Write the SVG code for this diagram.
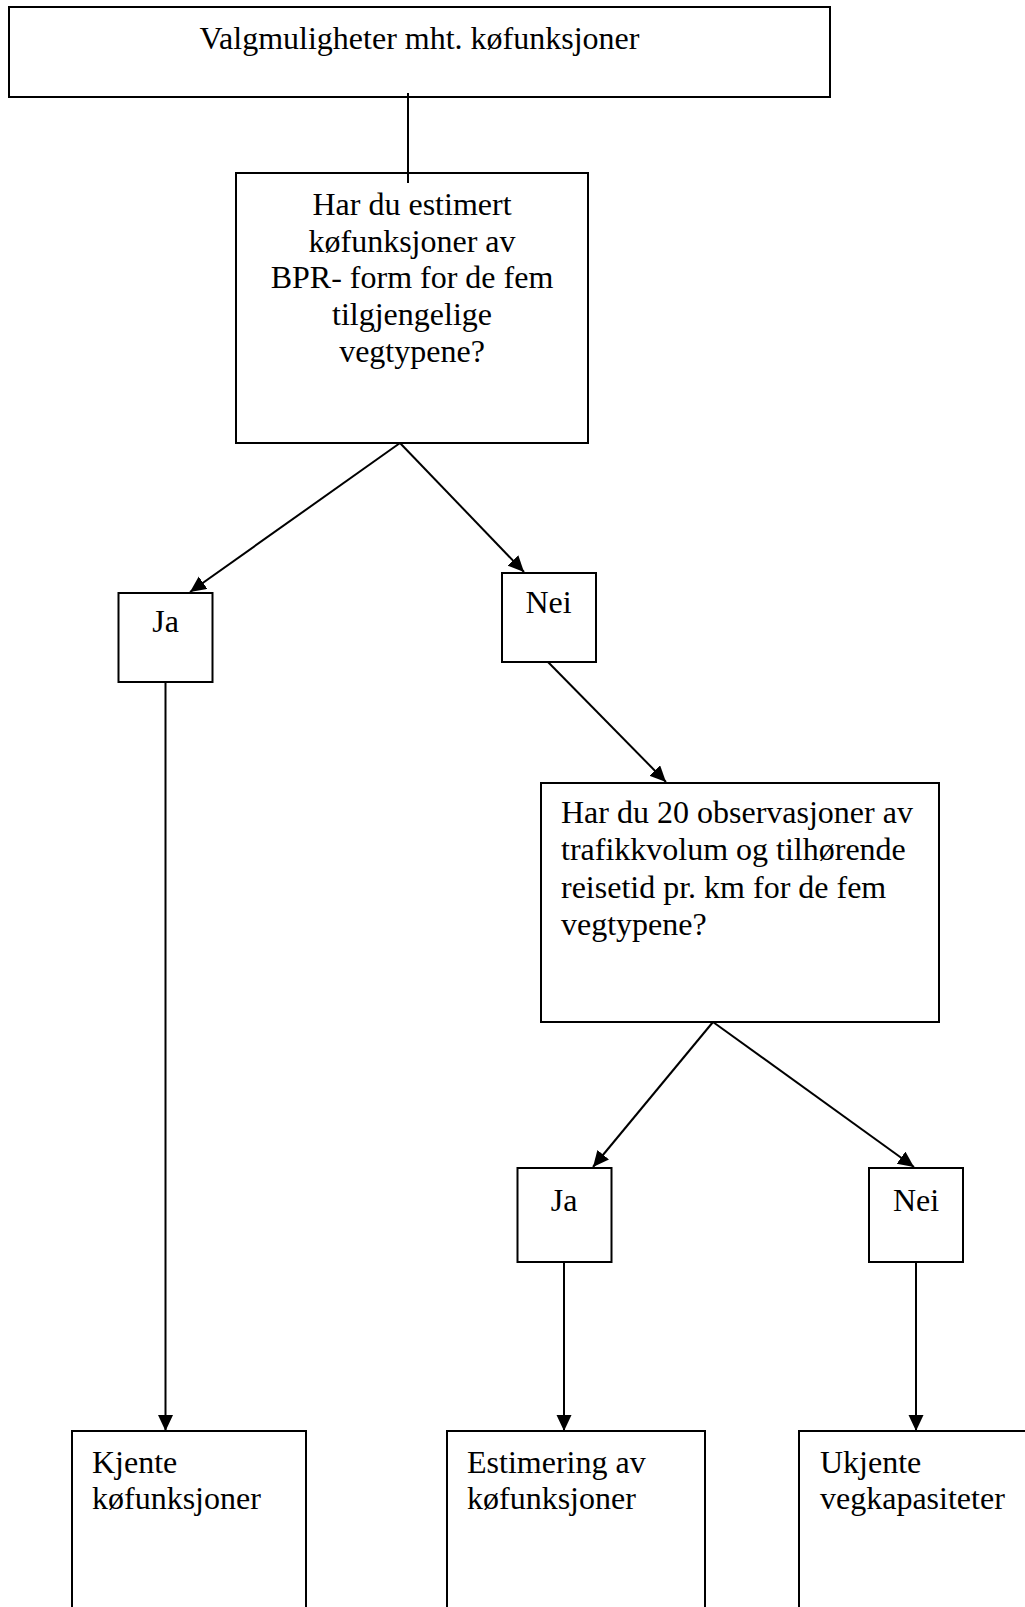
<svg xmlns="http://www.w3.org/2000/svg" width="1025" height="1607" viewBox="0 0 1025 1607">
<style>
.box{fill:none;stroke:#000;stroke-width:2}
.t{font-family:"Liberation Serif","Times New Roman",serif;font-size:32px;fill:#000}
.c{text-anchor:middle}
.ln{stroke:#000;stroke-width:2;fill:none}
</style>
<defs>
<marker id="ah" markerUnits="userSpaceOnUse" markerWidth="18" markerHeight="16" refX="16" refY="7.5" orient="auto">
<path d="M0,0 L16,7.5 L0,15 z" fill="#000"/>
</marker>
</defs>
<rect width="1025" height="1607" fill="#fff"/>
<g id="n-top">
<rect class="box" x="9" y="7" width="821" height="90"/>
<text class="t c" x="419.5" y="49">Valgmuligheter mht. køfunksjoner</text>
</g>
<g id="n-q1">
<rect class="box" x="236" y="173" width="352" height="270"/>
<text class="t c" x="412" y="215">Har du estimert</text>
<text class="t c" x="412" y="252">køfunksjoner av</text>
<text class="t c" x="412" y="288">BPR- form for de fem</text>
<text class="t c" x="412" y="325">tilgjengelige</text>
<text class="t c" x="412" y="362">vegtypene?</text>
</g>
<g id="n-ja1">
<rect class="box" x="118.5" y="593" width="94" height="89"/>
<text class="t c" x="165.5" y="632">Ja</text>
</g>
<g id="n-nei1">
<rect class="box" x="502" y="573" width="94" height="89"/>
<text class="t c" x="548.5" y="613">Nei</text>
</g>
<g id="n-q2">
<rect class="box" x="541" y="783" width="398" height="239"/>
<text class="t" x="561" y="823">Har du 20 observasjoner av</text>
<text class="t" x="561" y="860">trafikkvolum og tilhørende</text>
<text class="t" x="561" y="898">reisetid pr. km for de fem</text>
<text class="t" x="561" y="935">vegtypene?</text>
</g>
<g id="n-ja2">
<rect class="box" x="517.5" y="1168" width="94" height="94"/>
<text class="t c" x="564" y="1211">Ja</text>
</g>
<g id="n-nei2">
<rect class="box" x="869" y="1168" width="94" height="94"/>
<text class="t c" x="916" y="1211">Nei</text>
</g>
<g id="n-kjente">
<rect class="box" x="72" y="1431" width="234" height="200"/>
<text class="t" x="92" y="1473">Kjente</text>
<text class="t" x="92" y="1509">køfunksjoner</text>
</g>
<g id="n-estimering">
<rect class="box" x="447" y="1431" width="258" height="200"/>
<text class="t" x="467" y="1473">Estimering av</text>
<text class="t" x="467" y="1509">køfunksjoner</text>
</g>
<g id="n-ukjente">
<rect class="box" x="799" y="1431" width="260" height="200"/>
<text class="t" x="820" y="1473">Ukjente</text>
<text class="t" x="820" y="1509">vegkapasiteter</text>
</g>
<g id="connectors">
<line class="ln" x1="408" y1="93" x2="408" y2="183"/>
<line class="ln" x1="400" y1="443" x2="190" y2="592" marker-end="url(#ah)"/>
<line class="ln" x1="400" y1="443" x2="524" y2="572" marker-end="url(#ah)"/>
<line class="ln" x1="548" y1="662" x2="666" y2="782" marker-end="url(#ah)"/>
<line class="ln" x1="713" y1="1022" x2="593" y2="1167" marker-end="url(#ah)"/>
<line class="ln" x1="713" y1="1022" x2="914" y2="1167" marker-end="url(#ah)"/>
<line class="ln" x1="165.5" y1="682" x2="165.5" y2="1431" marker-end="url(#ah)"/>
<line class="ln" x1="564" y1="1262" x2="564" y2="1431" marker-end="url(#ah)"/>
<line class="ln" x1="916" y1="1262" x2="916" y2="1431" marker-end="url(#ah)"/>
</g>
</svg>
